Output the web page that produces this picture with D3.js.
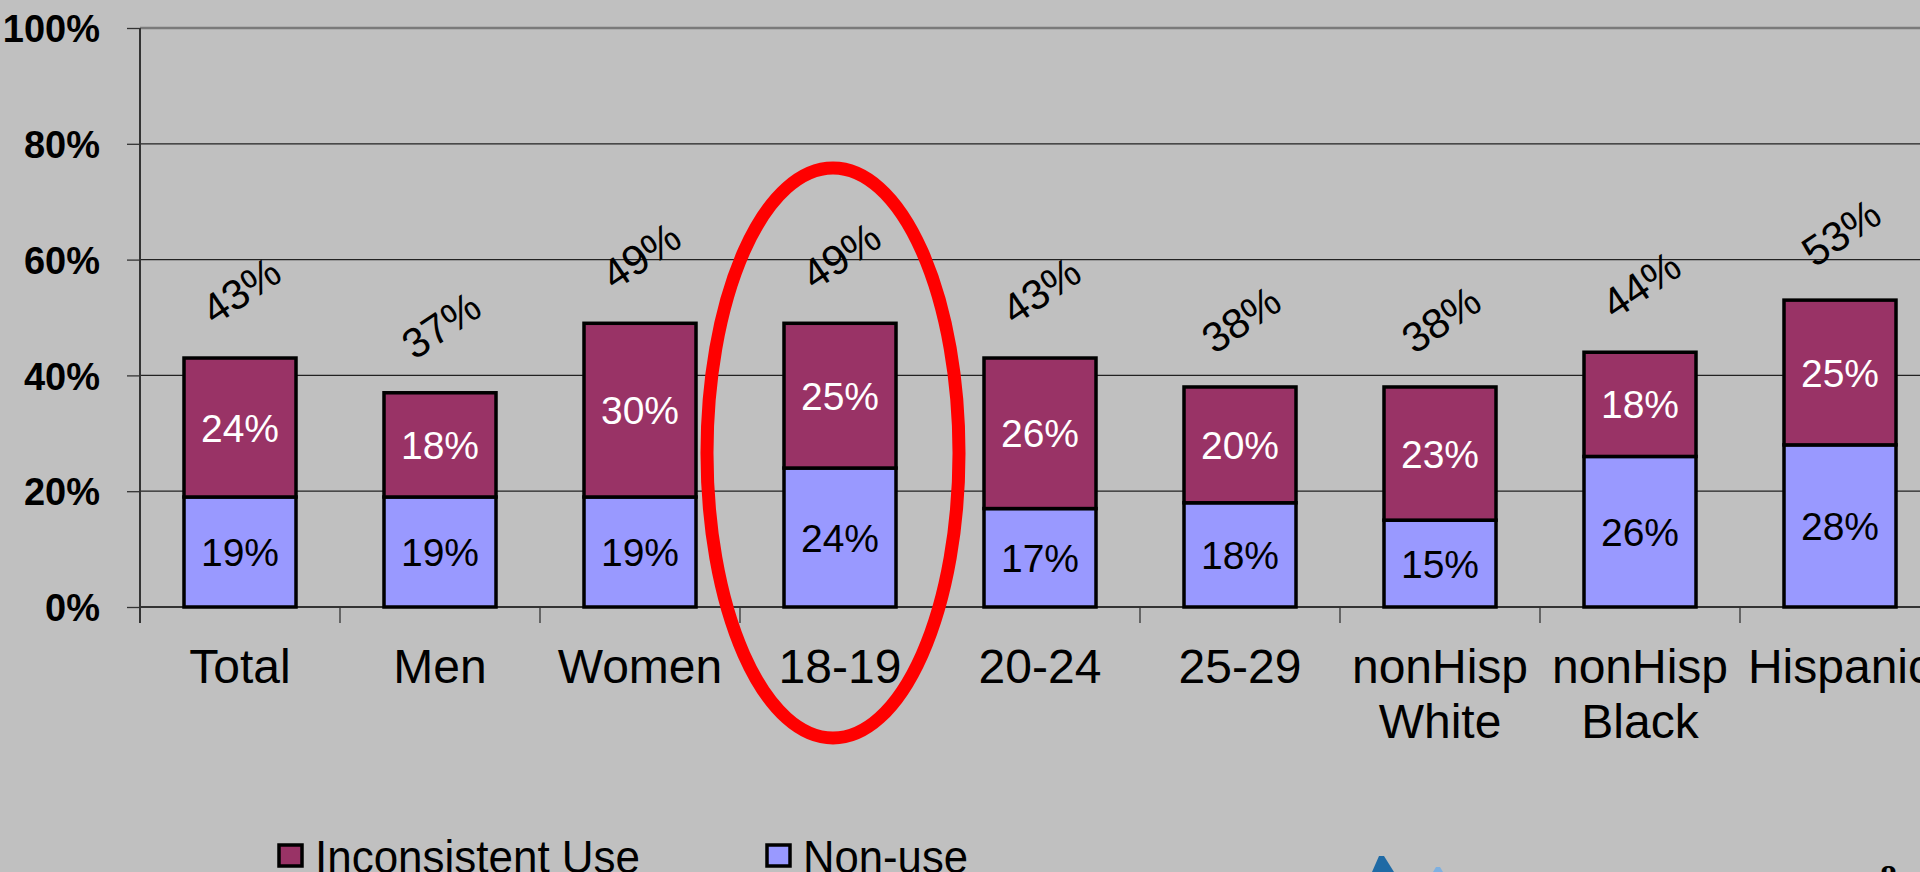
<!DOCTYPE html>
<html><head><meta charset="utf-8">
<script src="https://cdn.jsdelivr.net/npm/d3@7"></script>
<style>html,body{margin:0;padding:0;background:#C0C0C0;overflow:hidden}</style>
</head><body>
<script>
const categories = [["Total"],["Men"],["Women"],["18-19"],["20-24"],["25-29"],["nonHisp","White"],["nonHisp","Black"],["Hispanic"]];
const nonUse = [19,19,19,24,17,18,15,26,28];
const inconsistent = [24,18,30,25,26,20,23,18,25];
const totals = [43,37,49,49,43,38,38,44,53];
const yTicks = [0,20,40,60,80,100];
const seriesNames = ["Inconsistent Use","Non-use"];
const colors = {inc:"#993366", non:"#9999FF"};

const W=1920,H=872;
const svg=d3.select("body").append("svg").attr("width",W).attr("height",H).style("display","block");
svg.append("rect").attr("width",W).attr("height",H).attr("fill","#C0C0C0");

const x=d3.scaleBand().domain(d3.range(categories.length)).range([140,1940]).paddingInner(0.44).paddingOuter(0.22);
const y=d3.scaleLinear().domain([0,100]).range([607,28]);
const font="'Liberation Sans', Arial, Helvetica, sans-serif";

// gridlines
svg.append("g").selectAll("line").data(yTicks.filter(t=>t>0&&t<100)).join("line")
  .attr("x1",140).attr("x2",W).attr("y1",d=>y(d)).attr("y2",d=>y(d))
  .attr("stroke","#222").attr("stroke-width",1.3);
svg.append("line").attr("x1",140).attr("x2",W).attr("y1",y(100)).attr("y2",y(100))
  .attr("stroke","#7a7a7a").attr("stroke-width",2.5);

// y axis
const yAxis=svg.append("g").attr("transform","translate(140,0)")
  .call(d3.axisLeft(y).tickValues(yTicks).tickSize(13).tickPadding(27).tickFormat(d=>d+"%"));
yAxis.select(".domain").attr("stroke","#333").attr("stroke-width",2).attr("d","M0,28V623");
yAxis.selectAll(".tick line").attr("stroke","#333").attr("stroke-width",1.3);
yAxis.selectAll("text").attr("font-family",font).attr("font-size",38).attr("font-weight","bold").attr("fill","#000").attr("dy","0.36em");

// x axis
svg.append("line").attr("x1",140).attr("x2",W).attr("y1",y(0)).attr("y2",y(0)).attr("stroke","#333").attr("stroke-width",2);
const step=x.step();
svg.append("g").selectAll("line").data(d3.range(categories.length+1)).join("line")
  .attr("x1",i=>140+i*step).attr("x2",i=>140+i*step).attr("y1",y(0)).attr("y2",y(0)+16)
  .attr("stroke","#333").attr("stroke-width",1.3);

// bars
const g=svg.append("g");
categories.forEach((c,i)=>{
  const bx=x(i), bw=x.bandwidth();
  g.append("rect").attr("x",bx).attr("y",y(nonUse[i])).attr("width",bw).attr("height",y(0)-y(nonUse[i]))
    .attr("fill",colors.non).attr("stroke","#000").attr("stroke-width",3.5);
  g.append("rect").attr("x",bx).attr("y",y(nonUse[i]+inconsistent[i])).attr("width",bw).attr("height",y(nonUse[i])-y(nonUse[i]+inconsistent[i]))
    .attr("fill",colors.inc).attr("stroke","#000").attr("stroke-width",3.5);
  const cx=bx+bw/2;
  g.append("text").attr("x",cx).attr("y",(y(0)+y(nonUse[i]))/2).attr("dy","0.36em").attr("text-anchor","middle")
    .attr("font-family",font).attr("font-size",39).attr("fill","#000").text(nonUse[i]+"%");
  g.append("text").attr("x",cx).attr("y",(y(nonUse[i])+y(nonUse[i]+inconsistent[i]))/2).attr("dy","0.36em").attr("text-anchor","middle")
    .attr("font-family",font).attr("font-size",39).attr("fill","#fff").text(inconsistent[i]+"%");
  const ty=y(nonUse[i]+inconsistent[i])-68;
  g.append("text").attr("transform",`translate(${cx+1},${ty}) rotate(-34)`).attr("dy","0.36em").attr("text-anchor","middle")
    .attr("font-family",font).attr("font-size",42).attr("fill","#000").text(totals[i]+"%");
  const lab=g.append("text").attr("text-anchor","middle").attr("font-family",font).attr("font-size",48).attr("fill","#000");
  c.forEach((line,k)=>lab.append("tspan").attr("x",cx).attr("y",683+k*55).text(line));
});

// red ellipse
svg.append("ellipse").attr("cx",x(3)+x.bandwidth()/2-7).attr("cy",453).attr("rx",126).attr("ry",285)
  .attr("fill","none").attr("stroke","#FF0000").attr("stroke-width",13);

// legend
const leg=svg.append("g");
const legX=[279,767], legLen=[325,165];
[colors.inc,colors.non].forEach((col,i)=>{
  leg.append("rect").attr("x",legX[i]).attr("y",845).attr("width",23).attr("height",21).attr("fill",col).attr("stroke","#000").attr("stroke-width",3.5);
  leg.append("text").attr("x",legX[i]+36).attr("y",873).attr("textLength",legLen[i]).attr("lengthAdjust","spacingAndGlyphs")
    .attr("font-family",font).attr("font-size",46).attr("fill","#000").text(seriesNames[i]);
});

// logo fragments & page number
svg.append("path").attr("d","M1379,856 L1384,856 L1394,872 L1372,872 Z").attr("fill","#1f6aa5");
svg.append("path").attr("d","M1436,867 L1440,867 L1443,872 L1433,872 Z").attr("fill","#7fb0e0");
svg.append("text").attr("x",1880).attr("y",888).attr("font-family","'Liberation Serif', 'Times New Roman', serif").attr("font-weight","bold").attr("font-size",34).attr("fill","#000").text("8");
</script>
</body></html>
